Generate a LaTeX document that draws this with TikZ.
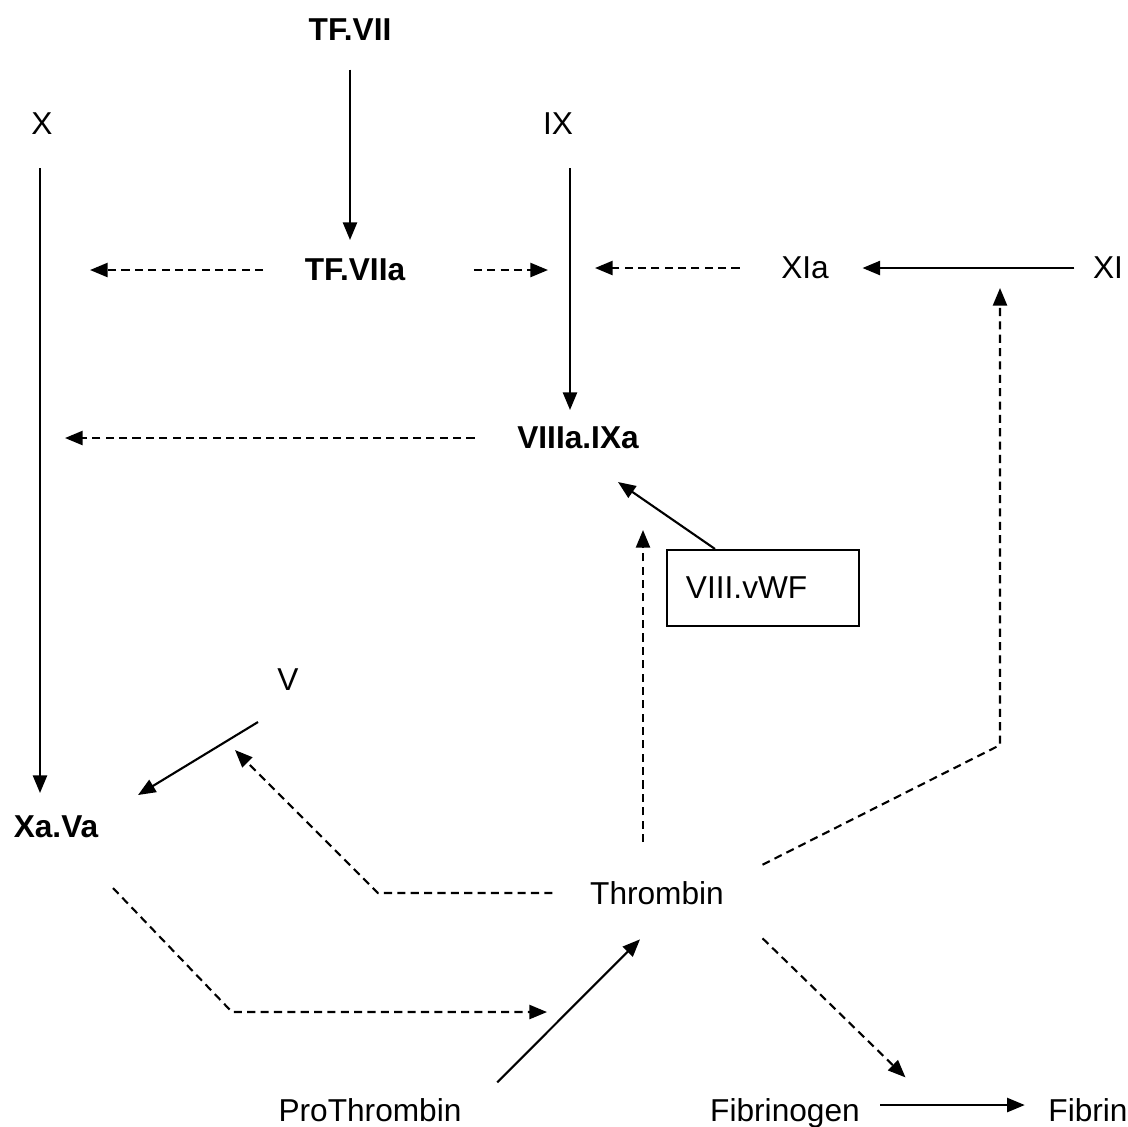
\documentclass[tikz,border=0pt]{standalone}
\usepackage{fontspec}
\setmainfont{Liberation Sans}
\usetikzlibrary{arrows.meta}

\begin{document}
\begin{tikzpicture}[x=0.01cm, y=-0.01cm,
	>={Triangle[length=5pt,width=4pt]},
	every node/.style={font=\fontsize{9}{11}\selectfont, inner sep=0pt},
	flow/.style={->, line width=0.6pt},
	act/.style={->, line width=0.6pt, dash pattern=on 2.3pt off 1.5pt}]

\useasboundingbox (0,0) rectangle (1128,1126);

% factors
\node (tfvii) at (350,30) {\bfseries TF.VII};
\node (x) at (42,124) {X};
\node (ix) at (558,124) {IX};
\node (tfviia) at (355,270) {\bfseries TF.VIIa};
\node (xia) at (805,268) {XIa};
\node (xi) at (1108,268) {XI};
\node (viiiaixa) at (578,438) {\bfseries VIIIa.IXa};
\node[draw, line width=0.6pt, align=left, text width=1.54cm, inner xsep=0.19cm,
	minimum height=0.76cm] (viiivwf) at (763,588) {VIII.vWF};
\node (v) at (288,680) {V};
\node (xava) at (56,827) {\bfseries Xa.Va};
\node (thrombin) at (657,893) {Thrombin};
\node[anchor=base] (prothrombin) at (370,1121) {ProThrombin};
\node[anchor=base] (fibrinogen) at (785,1121) {Fibrinogen};
\node[anchor=base] (fibrin) at (1088,1121) {Fibrin};

% free ends
\coordinate (xline) at (40,0);
\coordinate (ixline) at (570,0);
\coordinate (thrup) at (643,530);
\coordinate (thrxi) at (1000,745);
\coordinate (thrv) at (378,893);
\coordinate (vin) at (235,750);
\coordinate (xathr) at (232,1012);
\coordinate (prothr) at (547,1012);

% conversions
\draw[flow, shorten <=0.28cm, shorten >=0.3cm] (tfvii) -- (tfvii |- tfviia);
\draw[flow, shorten <=0.44cm, shorten >=0.34cm] (xline |- x) -- (xline |- xava);
\draw[flow, shorten <=0.44cm, shorten >=0.28cm] (ixline |- ix) -- (ixline |- viiiaixa);
\draw[flow, shorten <=0.18cm, shorten >=0.33cm] (xi.west) -- (xia.east);
\draw[flow] ([xshift=-0.48cm]viiivwf.north) -- ([shift={(40,44)}]viiiaixa.center);
\draw[flow] ([shift={(-30,42)}]v.center) -- ([shift={(82,-32)}]xava.center);
\draw[flow] ([shift={(35,-15)}]prothrombin.north east) -- ([shift={(-17,34)}]thrombin.south);
\draw[flow] ([shift={(20,-16)}]fibrinogen.base east) -- ([shift={(-23,-16)}]fibrin.base west);

% activations
\draw[act, shorten <=0.41cm, shorten >=0.5cm] (tfviia.west) -- (xline |- tfviia);
\draw[act, shorten <=0.68cm, shorten >=0.22cm] (tfviia.east) -- (ixline |- tfviia);
\draw[act, shorten <=0.41cm, shorten >=0.25cm] (xia.west) -- (ixline |- xia);
\draw[act, shorten <=0.42cm, shorten >=0.25cm] (viiiaixa.west) -- (xline |- viiiaixa);
\draw[act, shorten <=0.51cm] (thrup |- thrombin) -- (thrup);
\draw[act, shorten >=0.2cm] ([shift={(38,-16)}]thrombin.north east) -- (thrxi) -- (thrxi |- xi);
\draw[act, shorten <=0.37cm] (thrombin.west) -- (thrv) -- (vin);
\draw[act] ([shift={(57,61)}]xava.center) -- (xathr) -- (prothr);
\draw[act] ([shift={(38,33)}]thrombin.south east) -- ([shift={(45,-20)}]fibrinogen.north east);

\end{tikzpicture}
\end{document}
